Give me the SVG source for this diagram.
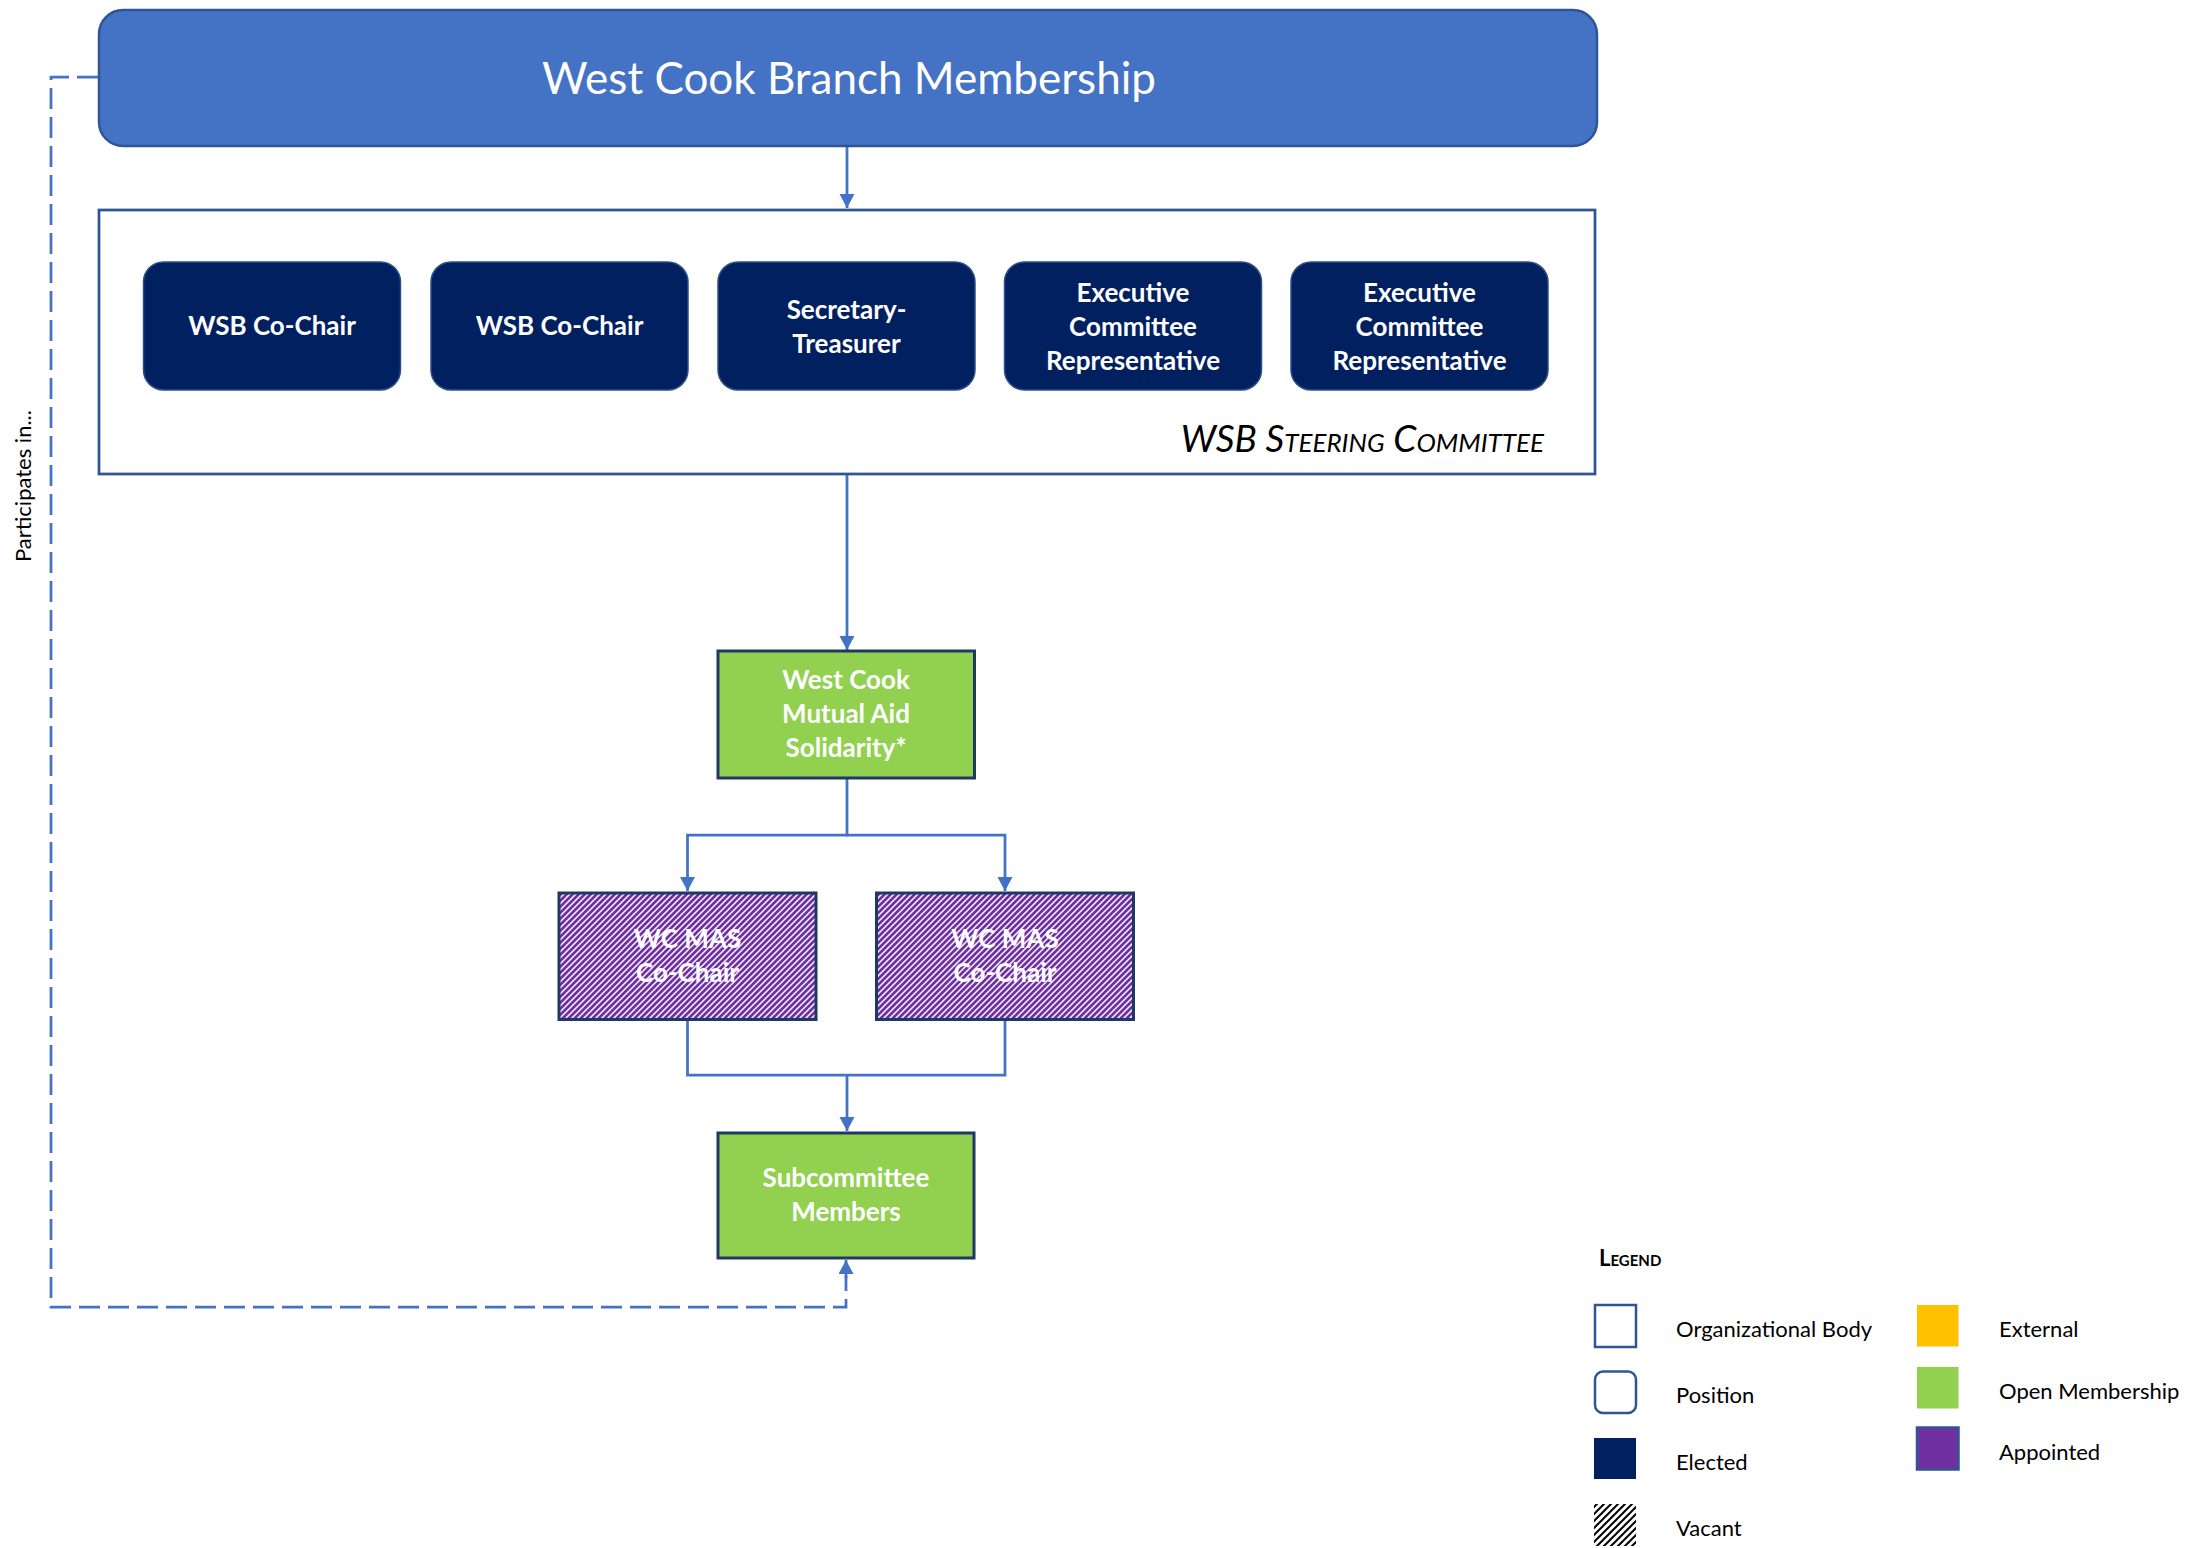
<svg xmlns="http://www.w3.org/2000/svg" width="2209" height="1548" viewBox="0 0 2209 1548">
<style>
.conn{fill:none;stroke:#4472C4;stroke-width:2.75}
.dash{fill:none;stroke:#4472C4;stroke-width:2.75;stroke-dasharray:21 8}
.pos{fill:#002060;stroke:#2F4F86;stroke-width:1.5}
.w{fill:#ffffff;font-family:Lato,"Liberation Sans",sans-serif;font-weight:bold;font-size:26px;text-anchor:middle}
.leg{fill:#000000;font-family:Lato,"Liberation Sans",sans-serif;font-size:22px}
</style>
<defs>
<marker id="arr" markerUnits="userSpaceOnUse" markerWidth="15" markerHeight="16" refX="14" refY="7.5" orient="auto">
<path d="M0,0 L14,7.5 L0,15 z" fill="#4472C4"/>
</marker>
<pattern id="hatchP" patternUnits="userSpaceOnUse" width="6" height="6">
<rect width="6" height="6" fill="#7030A0"/>
<path d="M0,6 L6,0 M-1.5,1.5 L1.5,-1.5 M4.5,7.5 L7.5,4.5" stroke="#ffffff" stroke-width="1.5"/>
</pattern>
<pattern id="hatchV" patternUnits="userSpaceOnUse" width="7" height="7">
<rect width="7" height="7" fill="#ffffff"/>
<path d="M0,7 L7,0 M-1.75,1.75 L1.75,-1.75 M5.25,8.75 L8.75,5.25" stroke="#000000" stroke-width="2"/>
</pattern>
</defs>

<g id="connectors">
<path class="conn" d="M847,146 V208" marker-end="url(#arr)"/>
<path class="conn" d="M847,474 V650" marker-end="url(#arr)"/>
<path class="conn" d="M847,778 V835 H687.5 V891" marker-end="url(#arr)"/>
<path class="conn" d="M847,835 H1005 V891" marker-end="url(#arr)"/>
<path class="conn" d="M687.5,1019 V1075 H1005 V1019"/>
<path class="conn" d="M847,1075 V1131" marker-end="url(#arr)"/>
<path class="dash" d="M98,77 H51 V1307 H846 V1276"/>
<path class="conn" d="M846,1278 V1260" marker-end="url(#arr)"/>
<text x="0" y="0" transform="translate(31,486) rotate(-90)" font-family="Lato,'Liberation Sans',sans-serif" font-size="22" text-anchor="middle" fill="#000">Participates in...</text>
</g>

<g id="west-cook-branch-membership">
<rect x="99" y="10" width="1498" height="136" rx="24" fill="#4472C4" stroke="#2F5597" stroke-width="2.5"/>
<text x="849" y="94" fill="#ffffff" font-family="Lato,'Liberation Sans',sans-serif" font-size="44" text-anchor="middle">West Cook Branch Membership</text>
</g>

<g id="wsb-steering-committee">
<rect x="99" y="210" width="1496" height="264" fill="#ffffff" stroke="#2F5597" stroke-width="2.75"/>
<text x="1544" y="452" fill="#000" font-family="Lato,'Liberation Sans',sans-serif" font-style="italic" font-variant="small-caps" font-size="37" text-anchor="end">WSB Steering Committee</text>
</g>

<g id="wsb-co-chair-1">
<rect class="pos" x="143.5" y="262" width="257" height="128" rx="20"/>
<text class="w" x="272" y="335">WSB Co-Chair</text>
</g>
<g id="wsb-co-chair-2">
<rect class="pos" x="431" y="262" width="257" height="128" rx="20"/>
<text class="w" x="559.5" y="335">WSB Co-Chair</text>
</g>
<g id="secretary-treasurer">
<rect class="pos" x="718" y="262" width="257" height="128" rx="20"/>
<text class="w" x="846.5" y="319">Secretary-</text>
<text class="w" x="846.5" y="353">Treasurer</text>
</g>
<g id="exec-rep-1">
<rect class="pos" x="1004.5" y="262" width="257" height="128" rx="20"/>
<text class="w" x="1133" y="302">Executive</text>
<text class="w" x="1133" y="336">Committee</text>
<text class="w" x="1133" y="370">Representative</text>
</g>
<g id="exec-rep-2">
<rect class="pos" x="1291" y="262" width="257" height="128" rx="20"/>
<text class="w" x="1419.5" y="302">Executive</text>
<text class="w" x="1419.5" y="336">Committee</text>
<text class="w" x="1419.5" y="370">Representative</text>
</g>

<g id="west-cook-mutual-aid-solidarity">
<rect x="718" y="651" width="256.5" height="127" fill="#92D050" stroke="#203864" stroke-width="3"/>
<text class="w" x="846" y="689">West Cook</text>
<text class="w" x="846" y="723">Mutual Aid</text>
<text class="w" x="846" y="757">Solidarity*</text>
</g>

<g id="wc-mas-co-chair-1">
<rect x="559" y="893" width="257" height="126.5" fill="url(#hatchP)" stroke="#203864" stroke-width="3"/>
<text class="w" x="687.5" y="948">WC MAS</text>
<text class="w" x="687.5" y="982">Co-Chair</text>
</g>
<g id="wc-mas-co-chair-2">
<rect x="876.5" y="893" width="257" height="126.5" fill="url(#hatchP)" stroke="#203864" stroke-width="3"/>
<text class="w" x="1005" y="948">WC MAS</text>
<text class="w" x="1005" y="982">Co-Chair</text>
</g>

<g id="subcommittee-members">
<rect x="718" y="1133" width="256" height="125" fill="#92D050" stroke="#203864" stroke-width="3"/>
<text class="w" x="846" y="1187">Subcommittee</text>
<text class="w" x="846" y="1221">Members</text>
</g>

<g id="legend">
<text x="1599" y="1266" fill="#000" font-family="Lato,'Liberation Sans',sans-serif" font-weight="bold" font-variant="small-caps" font-size="22">Legend</text>
<rect x="1595" y="1305" width="41" height="42" fill="#ffffff" stroke="#2F5597" stroke-width="2.5"/>
<text class="leg" x="1676" y="1337">Organizational Body</text>
<rect x="1595" y="1371.5" width="41" height="41.5" rx="8" fill="#ffffff" stroke="#2F5597" stroke-width="2.5"/>
<text class="leg" x="1676" y="1403">Position</text>
<rect x="1594" y="1438" width="42" height="41" fill="#002060"/>
<text class="leg" x="1676" y="1470">Elected</text>
<rect x="1594" y="1504" width="42" height="42" fill="url(#hatchV)"/>
<text class="leg" x="1676" y="1536">Vacant</text>
<rect x="1917" y="1305" width="41.5" height="41.5" fill="#FFC000"/>
<text class="leg" x="1999" y="1337">External</text>
<rect x="1917" y="1367" width="41.5" height="41.5" fill="#92D050"/>
<text class="leg" x="1999" y="1399">Open Membership</text>
<rect x="1917" y="1427.5" width="41.5" height="42" fill="#7030A0" stroke="#2F5597" stroke-width="2.5"/>
<text class="leg" x="1999" y="1460">Appointed</text>
</g>
</svg>
